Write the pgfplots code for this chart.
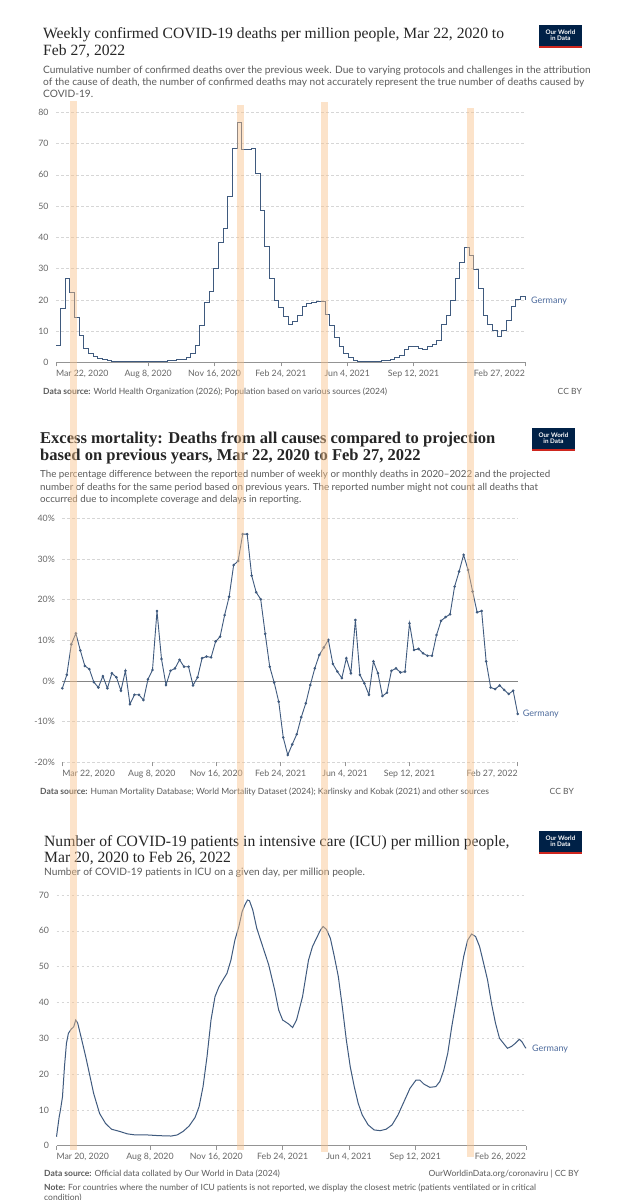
\documentclass[border=0pt]{standalone}
\usepackage{fontspec}
\setmainfont{Lato}
\newfontfamily\titlefont{Liberation Serif}
\usepackage{pgfplots}
\pgfplotsset{compat=1.18}
\definecolor{owidline}{HTML}{3F5A7E}
\definecolor{owidlabel}{HTML}{4C6A9C}
\definecolor{titlecol}{HTML}{262626}
\definecolor{subcol}{HTML}{5B5B5B}
\definecolor{tickcol}{HTML}{666666}
\definecolor{gridcol}{HTML}{D6D6D6}
\definecolor{owidnavy}{HTML}{002147}
\definecolor{owidred}{HTML}{CE261E}
\definecolor{bandcol}{HTML}{F9C28A}

\pgfplotstableread{
x y
0 5.5
7 17.3
14 26.9
21 22.3
28 14.4
35 8.5
42 4.5
49 2.9
56 2.0
63 1.3
70 0.8
77 0.5
84 0.4
91 0.3
98 0.3
105 0.2
112 0.2
119 0.2
126 0.2
133 0.2
140 0.2
147 0.3
154 0.3
161 0.3
168 0.5
175 0.7
182 0.9
189 1.1
196 1.5
203 2.9
210 5.3
217 11.8
224 19.2
231 22.6
238 30.0
245 38.4
252 42.9
259 53.2
266 68.5
273 76.8
280 68.2
287 68.2
294 68.4
301 60.5
308 48.7
315 37.0
322 26.9
329 19.9
336 17.6
343 14.6
350 12.3
357 13.0
364 15.1
371 18.0
378 18.9
385 19.2
392 19.4
399 19.4
406 15.4
413 11.7
420 8.0
427 5.0
434 2.9
441 1.5
448 0.75
455 0.4
462 0.3
469 0.25
476 0.25
483 0.3
490 0.5
497 0.75
504 1.1
511 1.5
518 2.3
525 4.2
532 5.0
539 5.0
546 4.5
553 4.2
560 5.0
567 5.8
574 6.9
581 12.3
588 15.1
595 19.7
602 26.9
609 32.0
616 36.8
623 34.1
630 29.8
637 23.5
644 15.1
651 12.0
658 10.3
665 8.2
672 10.3
679 13.3
686 17.8
693 20.2
700 21.0
707 20.0
}\deaths

\pgfplotstableread{
x y
0 -1.8
7 1.5
14 9.0
21 11.7
28 7.5
35 3.7
42 2.9
49 -0.3
56 -1.6
63 1.2
70 -1.8
77 1.9
84 0.9
91 -2.4
98 2.5
105 -5.7
112 -3.4
119 -3.4
126 -4.7
133 0.4
140 2.7
147 17.2
154 5.4
161 -1.0
168 2.5
175 3.1
182 5.2
189 3.5
196 3.5
203 -1.1
210 0.9
217 5.6
224 6.0
231 5.8
238 9.7
245 10.9
252 16.2
259 20.7
266 28.5
273 29.5
280 36.1
287 36.1
294 25.9
301 21.8
308 20.1
315 11.6
322 3.5
329 -0.4
336 -5.1
343 -13.9
350 -18.2
357 -15.6
364 -13.1
371 -8.9
378 -5.5
385 -1.0
392 3.1
399 6.4
406 8.2
413 10.1
420 4.2
427 2.3
434 0.7
441 5.6
448 1.9
455 15.0
462 1.5
469 -0.6
476 -3.4
483 4.8
490 1.9
497 -3.7
504 -2.9
511 2.5
518 3.1
525 2.1
532 2.3
539 14.2
546 7.6
553 7.9
560 6.8
567 6.2
574 6.2
581 11.3
588 14.8
595 15.7
602 16.4
609 23.2
616 26.9
623 31.0
630 27.3
637 22.0
644 16.9
651 17.2
658 4.8
665 -1.6
672 -2.0
679 -1.1
686 -2.2
693 -3.2
700 -2.4
707 -8.1
}\excess

\pgfplotstableread{
x y
0 2.5
4 8
6 10
9 13.6
12 22
15 28.6
18 31.4
22 32.5
26 33.2
29 35.1
32 34.2
38 29.6
44 24.9
50 19.8
56 14.6
65 9
74 6.2
83 4.6
95 4.0
107 3.3
119 3.0
137 3.0
155 2.8
173 2.7
182 3.0
191 4.0
200 5.5
209 7.9
215 10.9
221 16.5
227 24.9
233 35.1
239 41.6
245 44.4
251 46.3
257 48.1
263 51.8
269 57.4
275 61.2
280 65.4
284 67.2
288 68.6
291 68.4
296 65.8
302 60.7
311 55.6
320 50.5
329 43.5
335 37.9
341 35.1
350 34.0
356 33.0
362 35.1
371 41.6
380 51.8
386 55.6
392 57.9
398 60.2
402 61.2
407 60.4
413 57.9
419 52.8
425 47.2
431 38.8
437 29.6
443 22.0
449 16.5
455 11.8
461 8.6
470 5.8
479 4.4
488 4.2
497 4.6
506 5.8
515 8.6
524 12.3
533 16.0
542 18.3
548 18.3
554 17.2
563 16.3
572 16.5
578 17.9
584 21.1
590 25.8
596 33.2
602 39.7
608 46.3
614 52.8
620 57.4
626 59.1
632 58.4
638 55.6
644 51.0
650 46.3
656 39.7
662 34.2
668 30.0
674 28.6
680 27.2
686 27.7
692 28.6
698 29.7
702 29.0
706 27.7
708 27.2
}\icu

\pgfplotsset{owid/.style={
  scale only axis, clip=false, anchor=south west,
  axis x line*=bottom, axis y line*=left,
  y axis line style={draw=none},
  ytick style={draw=none},
  x axis line style={tickcol!70, line width=0.6bp},
  xtick style={tickcol!70, line width=0.6bp},
  tick align=outside, major tick length=4bp,
  ymajorgrids,
  major grid style={gridcol, dash pattern=on 2.5bp off 2.5bp, line width=0.6bp},
  tick label style={font=\fontsize{8.8}{10}\selectfont, text=tickcol},
  /pgf/number format/assume math mode=true,
}}
\newcommand{\ttl}{\titlefont\fontsize{15.7}{18}\selectfont}
\newcommand{\ttlb}{\titlefont\fontsize{16.6}{18}\selectfont\bfseries}
\newcommand{\sub}{\fontsize{10.2}{11}\selectfont}
\newcommand{\subb}{\fontsize{9.8}{11}\selectfont}
\newcommand{\src}{\fontsize{8.55}{10}\selectfont}
\newcommand{\logo}[2]{%
  \fill[owidnavy] (#1,#2) rectangle ++(43,23);
  \fill[owidred] (#1,#2) rectangle ++(43,2);
  \node[text=white, font=\bfseries\fontsize{6.3}{7}\selectfont, align=center, inner sep=0] at (#1+21.5,#2+12.5) {Our World\\[-1pt]in Data};
}

\begin{document}
\begin{tikzpicture}[x=1bp,y=1bp]
\useasboundingbox[fill=white] (0,0) rectangle (623,1200);

% ---------- Panel 1 ----------
\node[anchor=base west, inner sep=0, font=\ttl, text=titlecol] at (43,1161.5) {Weekly confirmed COVID-19 deaths per million people, Mar 22, 2020 to};
\node[anchor=base west, inner sep=0, font=\ttl, text=titlecol] at (43,1144) {Feb 27, 2022};
\node[anchor=base west, inner sep=0, font=\sub, text=subcol] at (43,1126.5) {Cumulative number of confirmed deaths over the previous week. Due to varying protocols and challenges in the attribution};
\node[anchor=base west, inner sep=0, font=\sub, text=subcol] at (43,1114) {of the cause of death, the number of confirmed deaths may not accurately represent the true number of deaths caused by};
\node[anchor=base west, inner sep=0, font=\sub, text=subcol] at (43,1102) {COVID-19.};
\logo{539}{1152}

\begin{axis}[owid, at={(56bp,837.5bp)}, width=469bp, height=250.2bp,
  xmin=0, xmax=707, ymin=0, ymax=80, ytick={0,10,...,80},
  xtick={0,139,239,339,439,539,707},
  xticklabels={{\rlap{Mar 22, 2020}},{Aug 8, 2020},{Nov 16, 2020},{Feb 24, 2021},{Jun 4, 2021},{Sep 12, 2021},{\llap{Feb 27, 2022}}}]
\addplot[const plot, owidline, line width=1bp] table[x=x,y=y] {\deaths};
\node[anchor=west, inner sep=0, xshift=6bp, font=\fontsize{9}{10}\selectfont, text=owidlabel] at (axis cs:707,19.6) {Germany};
\end{axis}
\node[anchor=base west, inner sep=0, font=\src, text=subcol] at (43,805) {\textbf{Data source:} World Health Organization (2026); Population based on various sources (2024)};
\node[anchor=base east, inner sep=0, font=\src, text=subcol] at (582,805) {CC BY};

% ---------- Panel 2 ----------
\node[anchor=base west, inner sep=0, font=\ttlb, text=titlecol] at (40,756.7) {Excess mortality: Deaths from all causes compared to projection};
\node[anchor=base west, inner sep=0, font=\ttlb, text=titlecol] at (40,739) {based on previous years, Mar 22, 2020 to Feb 27, 2022};
\node[anchor=base west, inner sep=0, font=\subb, text=subcol] at (40,722) {The percentage difference between the reported number of weekly or monthly deaths in 2020–2022 and the projected};
\node[anchor=base west, inner sep=0, font=\subb, text=subcol] at (40,709.5) {number of deaths for the same period based on previous years. The reported number might not count all deaths that};
\node[anchor=base west, inner sep=0, font=\subb, text=subcol] at (40,697) {occurred due to incomplete coverage and delays in reporting.};
\logo{532}{749}

\begin{axis}[owid, at={(62.3bp,437.7bp)}, width=455.4bp, height=244bp,
  x axis line style={draw=none},
  xmin=0, xmax=707, ymin=-20, ymax=40, ytick={-20,-10,...,40},
  yticklabel={\pgfmathprintnumber{\tick}\%},
  xtick={0,139,239,339,439,539,707},
  xticklabels={{\rlap{Mar 22, 2020}},{Aug 8, 2020},{Nov 16, 2020},{Feb 24, 2021},{Jun 4, 2021},{Sep 12, 2021},{\llap{Feb 27, 2022}}}]
\draw[tickcol!80, line width=0.7bp] (axis cs:0,0) -- (axis cs:707,0);
\addplot[owidline, line width=0.9bp, mark=*, mark size=0.8bp, mark options={fill=owidline}] table[x=x,y=y] {\excess};
\node[anchor=west, inner sep=0, xshift=5bp, font=\fontsize{9}{10}\selectfont, text=owidlabel] at (axis cs:707,-8.1) {Germany};
\end{axis}
\node[anchor=base west, inner sep=0, font=\src, text=subcol] at (40,405.5) {\textbf{Data source:} Human Mortality Database; World Mortality Dataset (2024); Karlinsky and Kobak (2021) and other sources};
\node[anchor=base east, inner sep=0, font=\src, text=subcol] at (574,405.5) {CC BY};

% ---------- Panel 3 ----------
\node[anchor=base west, inner sep=0, font=\ttl, text=titlecol] at (44,353.5) {Number of COVID-19 patients in intensive care (ICU) per million people,};
\node[anchor=base west, inner sep=0, font=\ttl, text=titlecol] at (44,337.5) {Mar 20, 2020 to Feb 26, 2022};
\node[anchor=base west, inner sep=0, font=\sub, text=subcol] at (44,324) {Number of COVID-19 patients in ICU on a given day, per million people.};
\logo{539}{346}

\begin{axis}[owid, at={(56.5bp,54.3bp)}, width=469.5bp, height=250.7bp,
  xmin=0, xmax=708, ymin=0, ymax=70, ytick={0,10,...,70},
  xtick={0,141,241,341,441,541,708},
  xticklabels={{\rlap{Mar 20, 2020}},{Aug 8, 2020},{Nov 16, 2020},{Feb 24, 2021},{Jun 4, 2021},{Sep 12, 2021},{\llap{Feb 26, 2022}}}]
\addplot[owidline, line width=1bp] table[x=x,y=y] {\icu};
\node[anchor=west, inner sep=0, xshift=6bp, font=\fontsize{9}{10}\selectfont, text=owidlabel] at (axis cs:708,27) {Germany};
\end{axis}
\node[anchor=base west, inner sep=0, font=\src, text=subcol] at (44,23) {\textbf{Data source:} Official data collated by Our World in Data (2024)};
\node[anchor=base east, inner sep=0, font=\src, text=subcol] at (579,23) {OurWorldinData.org/coronaviru | CC BY};
\node[anchor=base west, inner sep=0, font=\src, text=subcol] at (44,9.3) {\textbf{Note:} For countries where the number of ICU patients is not reported, we display the closest metric (patients ventilated or in critical};
\node[anchor=base west, inner sep=0, font=\src, text=subcol] at (44,-0.5) {condition)};

% ---------- highlight bands ----------
\fill[bandcol, fill opacity=0.45] (69.5,50) rectangle (76.5,1099.3);
\fill[bandcol, fill opacity=0.45] (236.5,50) rectangle (244,1095.3);
\fill[bandcol, fill opacity=0.45] (320.5,48.3) rectangle (327.5,1098);
\fill[bandcol, fill opacity=0.45] (467,42.5) rectangle (474,1092);
\end{tikzpicture}
\end{document}
